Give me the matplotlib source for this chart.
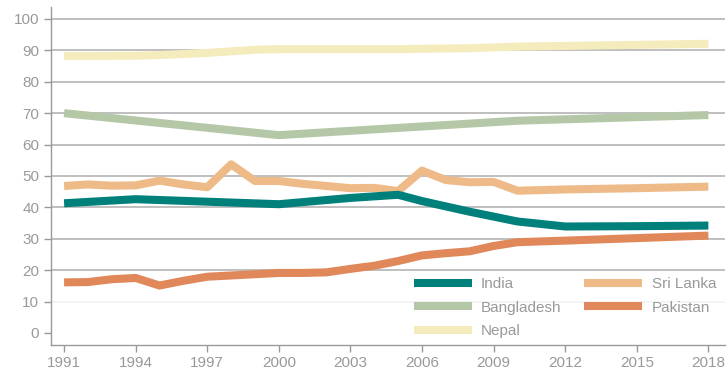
import matplotlib.pyplot as plt

plt.rcParams['font.family'] = ['Liberation Sans', 'DejaVu Sans']

# values
india_years = [1991, 1994, 1997, 2000, 2003, 2005, 2006, 2008, 2010, 2012, 2015, 2018]
india = [41.3, 42.6, 41.8, 41.0, 43.0, 44.0, 42.0, 38.6, 35.5, 33.9, 34.0, 34.2]

bangladesh_years = [1991, 2000, 2010, 2018]
bangladesh = [70.0, 63.0, 67.6, 69.4]

nepal_years = [1991, 1994, 1995, 1997, 1999, 2000, 2005, 2008, 2010, 2018]
nepal = [88.2, 88.3, 88.5, 89.2, 90.2, 90.4, 90.4, 90.7, 91.2, 92.1]

srilanka_years = list(range(1991, 2011)) + [2012, 2015, 2018]
srilanka = [46.8, 47.3, 46.9, 47.0, 48.5, 47.3, 46.4, 53.7, 48.4, 48.4,
            47.5, 46.8, 46.1, 46.2, 45.2, 51.7, 48.7, 48.0, 48.1, 45.3,
            45.7, 46.1, 46.6]

pakistan_years = list(range(1991, 2011)) + [2012, 2015, 2018]
pakistan = [16.1, 16.2, 17.1, 17.5, 15.1, 16.6, 17.9, 18.3, 18.7, 19.1,
            19.1, 19.3, 20.4, 21.4, 22.9, 24.7, 25.4, 26.0, 27.7, 28.9,
            29.4, 30.2, 31.0]

xticks = list(range(1991, 2019, 3))
yticks = list(range(0, 101, 10))

grey = '#999999'

fig = plt.figure(figsize=(7.28, 3.72), dpi=100)
ax = fig.add_axes([0.070, 0.073, 0.926, 0.908])

for y in yticks:
    if y == 0:
        continue
    c = '#f2f2f2' if y == 10 else '#b4b4b4'
    ax.axhline(y, color=c, lw=1.2, zorder=0)

lw = 5.8
ax.plot(nepal_years, nepal, color='#f5ecbd', lw=lw, label='Nepal', solid_capstyle='butt')
ax.plot(bangladesh_years, bangladesh, color='#b4c8a8', lw=lw, label='Bangladesh', solid_capstyle='butt')
ax.plot(pakistan_years, pakistan, color='#e0885a', lw=lw, label='Pakistan', solid_capstyle='butt')
ax.plot(srilanka_years, srilanka, color='#eeba88', lw=lw, label='Sri Lanka', solid_capstyle='butt')
ax.plot(india_years, india, color='#00807b', lw=lw, label='India', solid_capstyle='butt')

ax.set_xlim(1990.45, 2018.7)
ax.set_ylim(-3.8, 103.8)
ax.set_xticks(xticks)
ax.set_yticks(yticks)
ax.tick_params(colors=grey, labelcolor=grey, labelsize=11, length=5, width=1)
ax.tick_params(axis='x', pad=3)

for s in ['top', 'right']:
    ax.spines[s].set_visible(False)
for s in ['left', 'bottom']:
    ax.spines[s].set_color(grey)
    ax.spines[s].set_linewidth(1)

handles, labels = ax.get_legend_handles_labels()
order = ['India', 'Bangladesh', 'Nepal', 'Sri Lanka', 'Pakistan']
hmap = dict(zip(labels, handles))
leg = ax.legend([hmap[k] for k in order], order, ncol=2, frameon=False,
                loc='upper left', bbox_to_anchor=(0.538, 0.2),
                borderaxespad=0, handlelength=3.8, fontsize=11, labelcolor=grey,
                borderpad=0, labelspacing=0.62, columnspacing=1.5,
                handletextpad=0.6)

fig.savefig('out.png', dpi=100)
